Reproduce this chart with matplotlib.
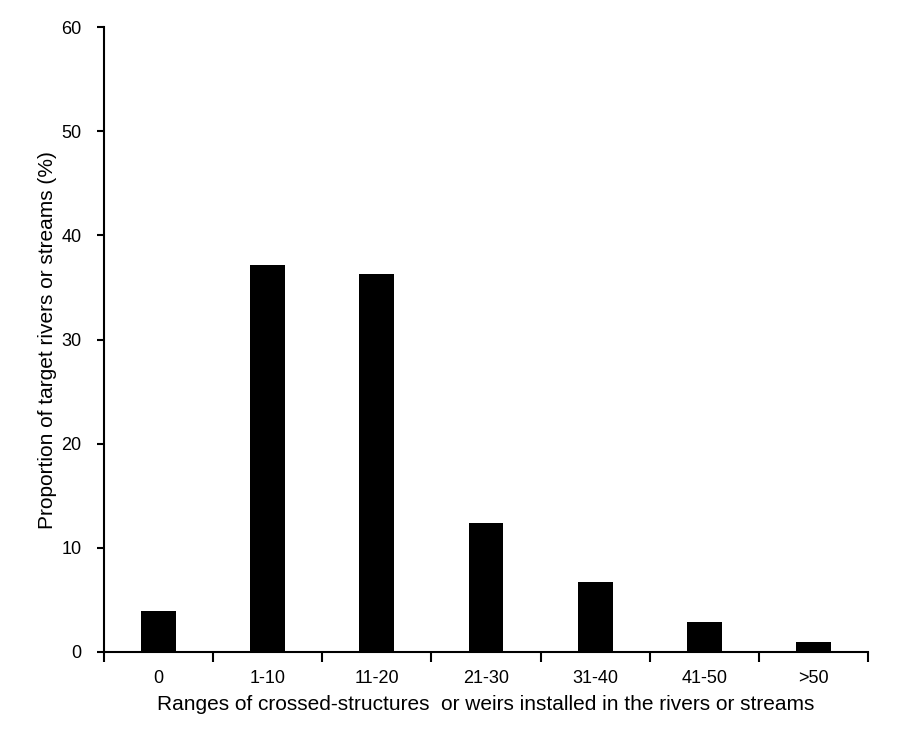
import matplotlib
matplotlib.use("Agg")
import matplotlib.pyplot as plt
import numpy as np

categories = ["0", "1-10", "11-20", "21-30", "31-40", "41-50", ">50"]
values = [3.9, 37.2, 36.3, 12.4, 6.7, 2.9, 1.0]
yticks = [0, 10, 20, 30, 40, 50, 60]

plt.rcParams['font.family'] = ['Liberation Sans', 'DejaVu Sans']

fig = plt.figure(figsize=(9.11, 7.35), dpi=100)
ax = fig.add_axes([0.114, 0.113, 0.839, 0.850])

x = np.arange(len(categories))
ax.bar(x, values, width=0.32, color="black")

ax.set_xlim(-0.5, len(categories) - 0.5)
ax.set_ylim(0, 60)
ax.set_yticks(yticks)
ax.set_xticks(x)
ax.set_xticklabels(categories, fontsize=13)
ax.set_xticks(np.arange(-0.5, len(categories)), minor=True)
ax.tick_params(axis='x', which='major', length=0, pad=13)
ax.tick_params(axis='x', which='minor', length=7, width=1.5, direction='out')
ax.tick_params(axis='y', length=5, width=1.5, direction='out', labelsize=13, pad=11)

for s in ['top', 'right']:
    ax.spines[s].set_visible(False)
for s in ['left', 'bottom']:
    ax.spines[s].set_linewidth(1.5)

ax.set_xlabel("Ranges of crossed-structures  or weirs installed in the rivers or streams", fontsize=15, labelpad=6)
ax.set_ylabel("Proportion of target rivers or streams (%)", fontsize=15, labelpad=3)

fig.savefig("out.png", dpi=100)
